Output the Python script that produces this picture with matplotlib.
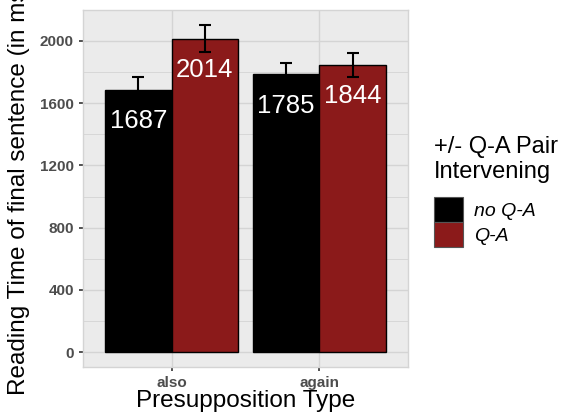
import numpy as np
import matplotlib
matplotlib.use("Agg")
from matplotlib import pyplot as plt
from matplotlib.patches import Patch
from matplotlib.ticker import MultipleLocator

plt.rcParams['font.family'] = ['Liberation Sans', 'DejaVu Sans']

# mean reading times (ms) and standard errors
presup = ["also", "again"]
conditions = ["no Q-A", "Q-A"]
means_noqa = [1687, 1785]
means_qa = [2014, 1844]
se_noqa = [82, 76]
se_qa = [88, 77]

colors = ["#000000", "#8B1A1A"]
bg = "#EBEBEB"
grid = "#D4D4D4"

fig = plt.figure(figsize=(5.66, 4.17), dpi=100)
ax = fig.add_axes([83/566, 1-367/417, 325/566, 357/417])
ax.set_facecolor(bg)

x = np.arange(1, len(presup) + 1)
w = 0.45
for i, (m, se) in enumerate([(means_noqa, se_noqa), (means_qa, se_qa)]):
    xs = x + (i - 0.5) * w
    ax.bar(xs, m, width=w, color=colors[i], edgecolor="black", linewidth=1.0, zorder=3)
    ax.errorbar(xs, m, yerr=se, fmt="none", ecolor="black", elinewidth=1.5,
                capsize=4, capthick=1.5, zorder=4)
    for xi, v in zip(xs, m):
        ax.annotate(str(v), (xi, v), xytext=(0, -22.5), textcoords="offset points",
                    ha="center", va="center", color="white", fontsize=18.5, zorder=5)

ax.set_xlim(0.4, 2.6)
ax.set_ylim(-96, 2199)
ax.set_xticks(x)
ax.set_xticklabels(presup)
ax.yaxis.set_major_locator(MultipleLocator(400))
ax.yaxis.set_minor_locator(MultipleLocator(200))
ax.grid(True, which="major", color=grid, linewidth=1.0, zorder=0)
ax.grid(True, which="minor", axis="y", color=grid, linewidth=0.6, zorder=0)
ax.set_axisbelow(True)
for s in ax.spines.values():
    s.set_color(grid)
    s.set_linewidth(1.0)
ax.tick_params(axis="both", which="major", length=3, width=1.2, color="#333333",
               labelsize=11, labelcolor="#4D4D4D")
ax.tick_params(axis="y", which="minor", length=0)
for lab in ax.get_xticklabels() + ax.get_yticklabels():
    lab.set_fontweight("bold")

ax.set_xlabel("Presupposition Type", fontsize=17.5, labelpad=0)
ax.set_ylabel("Reading Time of final sentence (in ms)", fontsize=17.5, labelpad=1)
ax.yaxis.set_label_coords(-53/325, (367-188)/357)

handles = [Patch(facecolor=c, edgecolor="#555555", linewidth=0.8) for c in colors]
leg = fig.legend(handles, conditions, title="+/- Q-A Pair\nIntervening",
                 loc="upper left", bbox_to_anchor=(426/566, 1-128/417),
                 frameon=False, fontsize=14, title_fontsize=17,
                 handlelength=1.5, handleheight=1.6, handletextpad=0.55,
                 labelspacing=0.0, borderaxespad=0)
leg._legend_box.align = "left"
leg._legend_box.sep = 10
for t in leg.get_texts():
    t.set_fontstyle("italic")

fig.savefig("out.png", dpi=100)
